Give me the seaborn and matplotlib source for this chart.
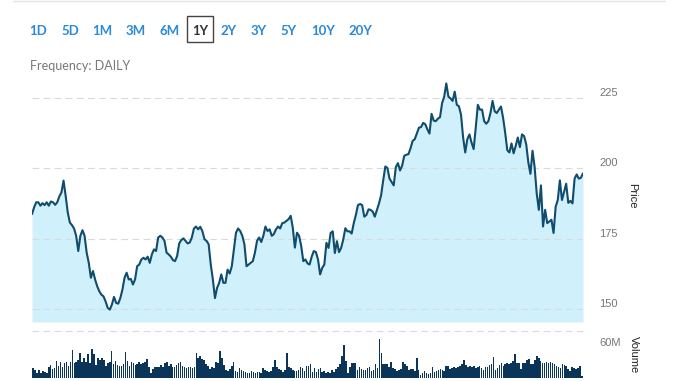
import matplotlib
matplotlib.use("Agg")
import matplotlib.pyplot as plt
from matplotlib.patches import Rectangle
from matplotlib.lines import Line2D
import pandas as pd
import seaborn as sns

# daily close (one value per trading day)
price = [
    183.7, 186.1, 187.9, 187.9, 186.7, 187.6, 186.9, 187.9, 186.7, 188.2,
    187.9, 187.0, 187.9, 190.0, 191.4, 195.6, 190.2, 184.3, 180.7, 179.8,
    178.6, 176.0, 170.6, 176.0, 178.0, 176.0, 170.0, 166.4, 161.1, 163.5,
    160.5, 158.1, 156.3, 155.1, 154.5, 152.7, 150.4, 149.8, 151.6, 154.3,
    152.2, 151.9, 153.9, 156.9, 161.1, 162.9, 160.5, 160.7, 158.7, 160.5,
    165.2, 165.8, 167.6, 168.2, 167.6, 168.6, 166.4, 169.4, 171.2, 170.6,
    175.4, 176.0, 175.4, 174.2, 170.0, 169.4, 168.6, 167.4, 167.0, 168.8,
    173.3,
    174.5, 175.1, 174.2, 173.3, 173.6, 175.4, 178.6, 179.3, 178.3, 179.2,
    177.7, 174.8, 174.2, 173.0, 165.8, 160.5, 153.9, 157.5, 159.3, 162.3,
    159.3, 159.3, 164.0, 162.6, 165.2, 171.2, 177.1, 178.6, 177.7, 176.0,
    173.0, 165.2, 165.8, 166.4, 167.0, 170.0, 174.2, 175.4, 173.8, 176.0,
    179.3, 177.7, 178.3, 176.0, 176.6, 178.3, 179.3, 178.6, 180.5, 180.7,
    181.3, 181.9, 183.1, 178.9, 171.8, 177.1, 176.0, 172.4, 167.0, 167.6,
    166.2, 165.8, 168.6, 170.6, 170.2, 167.6, 162.3, 164.6, 165.8,
    173.5, 171.7, 177.0, 177.6, 169.9,
    174.1, 170.2, 171.7, 174.7, 178.7, 177.6, 177.6, 176.8, 180.5, 183.4,
    186.9, 187.3, 186.9, 182.8, 183.4, 185.4, 185.2, 184.6, 182.8, 185.2,
    187.5, 190.4, 195.7, 200.6, 200.1, 196.3, 195.1, 193.9, 200.4, 201.8,
    199.2, 200.9, 204.4, 204.8, 205.0, 207.1, 209.7, 210.3, 212.3, 214.4,
    214.6, 216.1, 215.6, 213.8, 212.3, 219.3, 216.9, 216.7, 217.6, 218.1,
    223.1, 225.4, 230.1, 225.4, 224.8, 223.9, 227.2, 222.5, 222.0, 219.0,
    210.9, 205.6, 210.3, 212.0, 209.1, 206.8, 214.4, 222.5, 220.8, 220.8,
    216.7, 215.8, 216.7, 219.6, 223.9, 220.2, 219.6, 220.8, 221.9, 217.9,
    212.6, 206.4, 205.6, 208.8, 205.3, 207.9, 210.9, 207.5, 212.0, 211.4,
    208.5, 202.1, 198.0, 206.2, 200.4, 191.0, 185.2, 193.9, 179.3, 185.2,
    180.5, 181.1, 181.7, 177.0, 186.3, 188.7, 195.7, 188.7, 191.6, 194.5,
    187.7, 188.4, 187.5, 196.3, 197.8, 196.3, 196.6, 198.2,
]

# daily volume in millions
volume = [
    20, 17, 11, 17, 11, 15, 13, 11, 23, 27,
    18, 21, 35, 25, 33, 23, 30, 33, 25, 32,
    57, 30, 32, 37, 50, 33, 40, 33, 49, 30,
    58, 48, 27, 40, 37, 40, 37, 25, 30, 33,
    55, 28, 35, 27, 25, 25, 28, 53, 35, 25,
    33, 30, 27, 28, 32, 28, 30, 33, 38, 22,
    11, 18, 23, 23, 23, 27, 23, 30, 32, 25,
    28, 23, 22, 27, 30, 32, 25, 22, 20, 23,
    22, 20, 23, 50, 40, 45, 38, 37, 28, 25,
    18, 23, 20, 33, 30, 55, 41, 27, 17, 15,
    18, 25, 32, 15, 13, 20, 17, 15, 13, 11,
    10, 15, 13, 11, 12, 13, 10, 20, 17, 15,
    13, 15, 22, 37, 22, 18, 17, 13, 17, 50,
    22, 20, 17, 15, 15, 17, 22, 20, 15, 25,
    25, 28, 13, 20, 13, 18, 20, 13, 15, 11,
    13, 11, 17, 13, 18, 23, 28, 45, 67, 35,
    11, 23, 30, 30, 30, 17, 22, 18, 17, 17,
    20, 23, 15, 17, 28, 20, 79, 50, 28, 28,
    28, 22, 32, 20, 18, 15, 17, 18, 32, 28,
    25, 17, 18, 18, 15, 40, 17, 7, 10, 15,
    10, 9, 11, 22, 13, 15, 17, 18, 17, 15,
    25, 25, 18, 20, 22, 20, 23, 25, 28, 37,
    27, 22, 25, 23, 25, 20, 23, 25, 20, 17,
    23, 23, 27, 28, 42, 17, 20, 27, 31, 25,
    28, 30, 28, 31, 35, 48, 30, 31, 18, 30,
    30, 37, 38, 29, 28, 37, 45, 40, 35, 31,
    31, 32, 31, 32, 30, 28, 25, 22, 20, 29,
    27, 25, 18, 15, 22, 20, 18, 20, 25, 5,
]

ranges = ["1D", "5D", "1M", "3M", "6M", "1Y", "2Y", "3Y", "5Y", "10Y", "20Y"]
range_x = [38, 70, 102, 136, 170, 200, 229, 259, 289, 323, 360]
selected = "1Y"
price_ticks = [150, 175, 200, 225]
vol_ticks = [60]

sns.set_theme(style="white")
plt.rcParams["font.family"] = ["Liberation Sans", "DejaVu Sans"]

W, H = 678, 381
fig = plt.figure(figsize=(W / 100, H / 100), dpi=100)

# price panel
ax = fig.add_axes([32 / W, (H - 322) / H, (583 - 32) / W, (322 - 75) / H])
df = pd.DataFrame({"day": range(len(price)), "price": price})
ymin, ymax = 145.4, 233.1
ax.fill_between(df["day"], df["price"], ymin, color="#d0f1fc", lw=0)
sns.lineplot(data=df, x="day", y="price", ax=ax, color="#0f4c6e", lw=1.5)
ax.set_xlim(0, len(price) - 1)
ax.set_ylim(ymin, ymax)
ax.set_xticks([])
ax.set_yticks(price_ticks)
ax.yaxis.tick_right()
ax.tick_params(axis="y", length=0, pad=11.5, labelsize=8, labelcolor="#777777")
for lbl in ax.get_yticklabels():
    lbl.set_va("bottom")
ax.yaxis.grid(True, color="#dadada", ls=(0, (6, 4)), lw=0.8)
ax.set_axisbelow("line")
ax.set_xlabel("")
ax.set_ylabel("")
sns.despine(ax=ax, left=True, bottom=True, right=True, top=True)

# volume panel
axv = fig.add_axes([32 / W, (H - 378.3) / H, (583 - 32) / W, (378.3 - 331) / H])
vdf = pd.DataFrame({"day": range(len(volume)), "vol": volume})
sns.barplot(data=vdf, x="day", y="vol", ax=axv, color="#0b3558",
            width=0.8, saturation=1, linewidth=0)
for bar in axv.patches:
    bar.set_antialiased(False)
vtop = 94.6
axv.set_xlim(-0.5, len(volume) - 0.5)
axv.set_ylim(0, vtop)
axv.set_xticks([])
axv.set_yticks(vol_ticks)
axv.set_yticklabels([f"{v}M" for v in vol_ticks])
axv.yaxis.tick_right()
axv.tick_params(axis="y", length=0, pad=11.5, labelsize=8, labelcolor="#777777")
for lbl in axv.get_yticklabels():
    lbl.set_va("bottom")
axv.axhline(vtop, color="#dadada", ls=(0, (6, 4)), lw=0.8, clip_on=False)
axv.set_xlabel("")
axv.set_ylabel("")
sns.despine(ax=axv, left=True, bottom=True, right=True, top=True)

# axis titles
fig.text(632 / W, 1 - 196 / H, "Price", rotation=270, ha="center", va="center",
         fontsize=8, color="#222222")
fig.text(634 / W, 1 - 355 / H, "Volume", rotation=270, ha="center", va="center",
         fontsize=8, color="#222222")

# range buttons and header
fig.add_artist(Line2D([13 / W, 665 / W], [1 - 1 / H, 1 - 1 / H], color="#e4e4e4", lw=1))
for name, x in zip(ranges, range_x):
    fig.text(x / W, 1 - 31 / H, name, ha="center", va="center", fontsize=9.5,
             family="Lato", weight="bold",
             color="#333333" if name == selected else "#2a8ad8")
fig.add_artist(Rectangle((187 / W, 1 - 42 / H), 26 / W, 26 / H, fill=False,
                         ec="#444444", lw=1, transform=fig.transFigure))
fig.text(30 / W, 1 - 66 / H, "Frequency: DAILY", ha="left", va="center",
         fontsize=9, family="Lato", color="#777777")

fig.savefig("out.png", dpi=100)
